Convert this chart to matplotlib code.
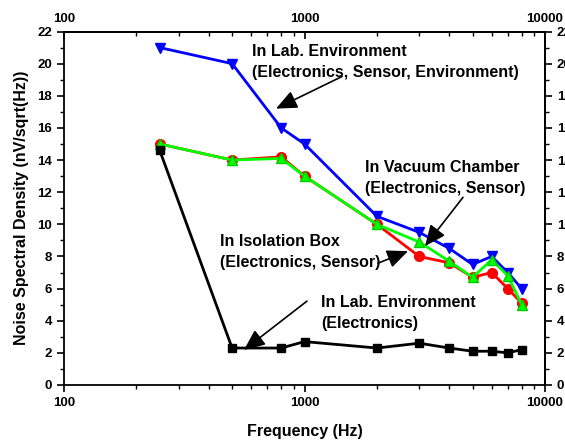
import numpy as np
import matplotlib
matplotlib.use('Agg')
from matplotlib import pyplot as plt
from matplotlib.ticker import MultipleLocator, FixedLocator, NullFormatter, LogLocator

plt.rcParams['font.family'] = ['Liberation Sans', 'DejaVu Sans']
plt.rcParams['font.weight'] = 'bold'

# data
freq = [250, 500, 800, 1000, 2000, 3000, 4000, 5000, 6000, 7000, 8000]
lab_all = [21, 20, 16, 15, 10.5, 9.5, 8.5, 7.5, 8.0, 7.0, 6.0]
isolation = [15, 14, 14.2, 13, 10, 8.0, 7.6, 6.7, 7.0, 6.0, 5.1]
vacuum = [15, 14, 14.1, 13, 10, 8.9, 7.7, 6.7, 7.8, 6.8, 5.0]
lab_elec = [14.6, 2.3, 2.3, 2.7, 2.3, 2.6, 2.3, 2.1, 2.1, 2.0, 2.2]

xticks = [100, 1000, 10000]
xticklabels = ['100', '1000', '10000']
yticks = list(range(0, 23, 2))

fig = plt.figure(figsize=(5.65, 4.42), dpi=100)
ax = fig.add_axes([0.1133, 0.129, 0.8513, 0.7997])

ax.plot(freq, lab_all, '-v', color='#0000ff', lw=2, ms=7.5, mec='#0000ff')
ax.plot(freq, isolation, '-o', color='#ff0000', lw=2, ms=7, mec='#ff0000')
ax.plot(freq, vacuum, '-^', color='#00ff00', lw=2, ms=7.5, mec='#00cc00')
ax.plot(freq, lab_elec, '-s', color='black', lw=2, ms=6)

ax.set_xscale('log')
ax.set_xlim(100, 10000)
ax.set_ylim(0, 22)
ax.set_xticks(xticks)
ax.set_xticklabels(xticklabels)
ax.xaxis.set_minor_locator(LogLocator(base=10, subs=np.arange(2, 10)))
ax.xaxis.set_minor_formatter(NullFormatter())
ax.set_yticks(yticks)
ax.yaxis.set_minor_locator(MultipleLocator(1))
ax.tick_params(which='major', direction='out', length=5, width=1.2, labelsize=9.5)
ax.tick_params(which='minor', direction='out', length=3, width=1.0)
for s in ax.spines.values():
    s.set_linewidth(1.3)

# top axis (ticks inward) and right axis (ticks outward)
top = ax.secondary_xaxis('top')
top.set_xticks(xticks)
top.set_xticklabels(xticklabels)
top.xaxis.set_minor_locator(LogLocator(base=10, subs=np.arange(2, 10)))
top.xaxis.set_minor_formatter(NullFormatter())
top.tick_params(which='major', direction='in', length=5, width=1.2, labelsize=9.5, pad=5)
top.tick_params(which='minor', direction='in', length=3, width=1.0)
top.spines['top'].set_linewidth(1.3)

right = ax.secondary_yaxis('right')
right.set_yticks(yticks)
right.yaxis.set_minor_locator(MultipleLocator(1))
right.tick_params(which='major', direction='out', length=5, width=1.2, labelsize=9.5)
right.tick_params(which='minor', direction='out', length=3, width=1.0)
right.spines['right'].set_linewidth(1.3)

ax.set_xlabel('Frequency (Hz)', fontsize=11.5, fontweight='bold', labelpad=11)
ax.set_ylabel('Noise Spectral Density (nV/sqrt(Hz))', fontsize=11.5, fontweight='bold', labelpad=6)

arr = dict(arrowstyle='-|>,head_length=0.8,head_width=0.35', color='black', lw=1.2,
           mutation_scale=16, shrinkA=0, shrinkB=0)

ax.text(605, 20.1, 'In Lab. Environment\n(Electronics, Sensor, Environment)',
        fontsize=11.5, fontweight='bold', ha='left', va='center', linespacing=1.5)
ax.annotate('', xy=(761, 17.2), xytext=(1432, 19.2), arrowprops=arr)

ax.text(1785, 12.9, 'In Vacuum Chamber\n(Electronics, Sensor)',
        fontsize=11.5, fontweight='bold', ha='left', va='center', linespacing=1.5)
ax.annotate('', xy=(3170, 8.64), xytext=(4561, 11.68), arrowprops=arr)

ax.text(445, 8.27, 'In Isolation Box\n(Electronics, Sensor)',
        fontsize=11.5, fontweight='bold', ha='left', va='center', linespacing=1.5)
ax.annotate('', xy=(2694, 8.33), xytext=(2021, 7.58), arrowprops=arr)

ax.text(1171, 4.51, 'In Lab. Environment\n(Electronics)',
        fontsize=11.5, fontweight='bold', ha='left', va='center', linespacing=1.5)
ax.annotate('', xy=(560, 2.18), xytext=(1024, 5.22), arrowprops=arr)

plt.savefig('out.png', dpi=100)
